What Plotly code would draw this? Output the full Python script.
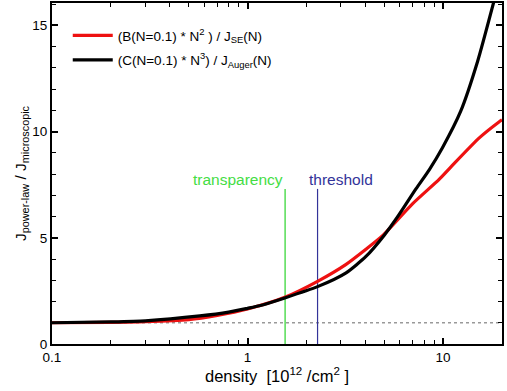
import plotly.graph_objects as go

# Data
x_red = [0.1, 0.2, 0.3, 0.5, 0.7, 1.0, 1.55, 2.28, 3.19, 4.03, 4.9, 6.97, 9.54, 11.0, 15.3, 19.3, 20]
y_red = [1.0, 1.02, 1.05, 1.15, 1.35, 1.65, 2.2, 2.95, 3.75, 4.46, 5.1, 6.6, 7.75, 8.35, 9.7, 10.45, 10.55]

x_black = [0.1, 0.2, 0.3, 0.57, 0.8, 1.0, 1.15, 1.55, 2.28, 3.19, 4.03, 5.0, 5.96, 7.26, 8.49, 9.92, 12.3, 15.0, 18.2, 20]
y_black = [1.0, 1.04, 1.09, 1.32, 1.5, 1.68, 1.8, 2.17, 2.7, 3.35, 4.12, 5.12, 6.1, 7.3, 8.2, 9.24, 10.96, 13.3, 16.14, 17.6]

transparency_x = 1.556
threshold_x = 2.28
marker_top = 7.3
reference_level = 1.0

x_major = [0.1, 1, 10]
x_major_labels = ["0.1", "1", "10"]
x_minor = [0.2, 0.3, 0.4, 0.5, 0.6, 0.7, 0.8, 0.9, 2, 3, 4, 5, 6, 7, 8, 9, 20]
y_major = [0, 5, 10, 15]
y_minor = [1, 2, 3, 4, 6, 7, 8, 9, 11, 12, 13, 14, 16]

fig = go.Figure()

# dotted reference line
fig.add_trace(go.Scatter(x=[0.1, 20], y=[reference_level, reference_level], mode="lines",
                         line=dict(color="#999999", width=1.5, dash="dot"), showlegend=False))
# vertical markers
fig.add_trace(go.Scatter(x=[transparency_x, transparency_x], y=[0, marker_top], mode="lines",
                         line=dict(color="#55dd55", width=1.5), showlegend=False))
fig.add_trace(go.Scatter(x=[threshold_x, threshold_x], y=[0, marker_top], mode="lines",
                         line=dict(color="#333399", width=1.2), showlegend=False))

fig.add_trace(go.Scatter(x=x_red, y=y_red, mode="lines", legendgroup="a",
                         line=dict(color="#ee1111", width=3.2, shape="spline", smoothing=0.6),
                         name="(B(N=0.1) * N<sup>2</sup> ) / J<sub>SE</sub>(N)"))
fig.add_trace(go.Scatter(x=x_black, y=y_black, mode="lines", legendgroup="b",
                         line=dict(color="black", width=3.2, shape="spline", smoothing=0.6),
                         name="(C(N=0.1) * N<sup>3</sup>) / J<sub>Auger</sub>(N)"))

fig.add_annotation(x=0.192, y=7.75, xref="x", yref="y", text="transparency", showarrow=False,
                   font=dict(color="#44dd44", size=15.5), xanchor="right")
fig.add_annotation(x=0.305, y=7.75, xref="x", yref="y", text="threshold", showarrow=False,
                   font=dict(color="#333399", size=15.5), xanchor="left")

fig.update_layout(
    width=507, height=391,
    margin=dict(l=52, r=5, t=3, b=47),
    paper_bgcolor="white", plot_bgcolor="white",
    font=dict(family="Liberation Sans, Arial, sans-serif", size=13, color="black"),
    legend=dict(x=0.035, y=0.95, xanchor="left", yanchor="top", bgcolor="rgba(0,0,0,0)",
                font=dict(size=13.5), itemwidth=40, tracegroupgap=4),
    xaxis=dict(type="log", range=[-1, 1.30103], showgrid=False, zeroline=False, automargin=False,
               showline=True, linecolor="black", linewidth=2, mirror="ticks",
               ticks="inside", ticklen=6, tickwidth=1.5, tickcolor="black",
               tickvals=x_major, ticktext=x_major_labels, tickfont=dict(size=13.5),
               minor=dict(tickvals=x_minor, ticks="inside", ticklen=4, tickwidth=1, tickcolor="black"),
               title=dict(text="density  [10<sup>12</sup> /cm<sup>2</sup> ]", font=dict(size=16.5), standoff=2)),
    yaxis=dict(range=[0, 16.05], showgrid=False, zeroline=False, automargin=False,
               showline=True, linecolor="black", linewidth=2, mirror="ticks",
               ticks="inside", ticklen=6, tickwidth=1.5, tickcolor="black",
               tickvals=y_major, tickfont=dict(size=13.5),
               minor=dict(tickvals=y_minor, ticks="inside", ticklen=4, tickwidth=1, tickcolor="black"),
               title=dict(text="J<sub>power-law</sub> / J<sub>microscopic</sub>", font=dict(size=15.5), standoff=2)),
)

fig.write_html("out.html", config={"displayModeBar": False},
               post_script="document.body.style.margin='0px';")
